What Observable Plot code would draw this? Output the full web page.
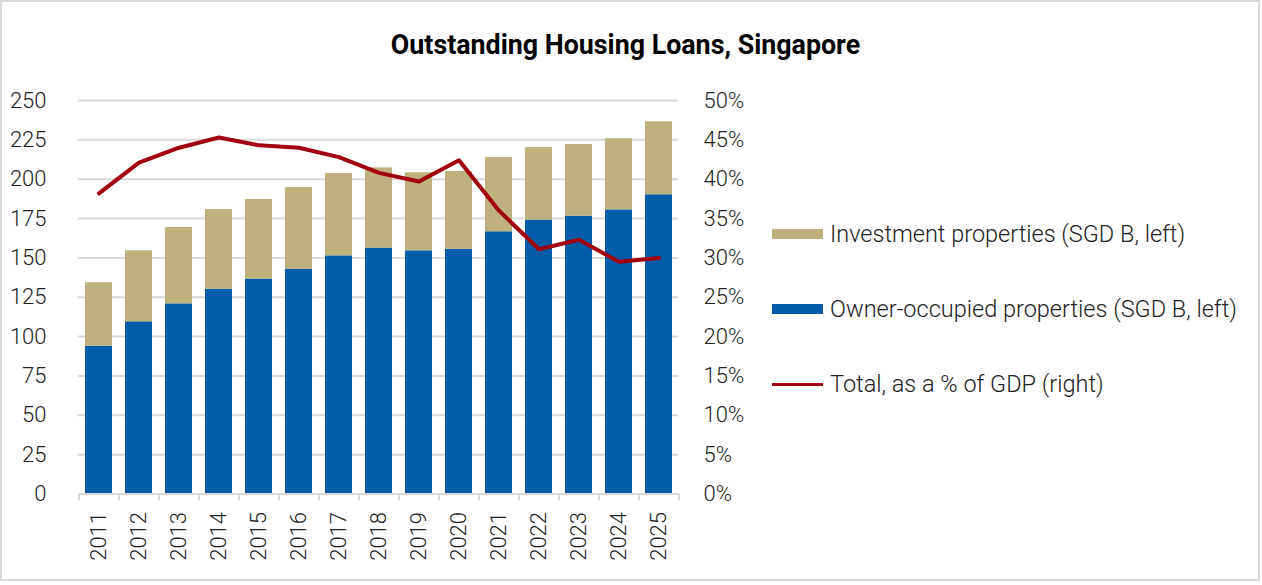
<!DOCTYPE html>
<html>
<head>
<meta charset="utf-8">
<script src="https://cdn.jsdelivr.net/npm/d3@7"></script>
<script src="https://cdn.jsdelivr.net/npm/@observablehq/plot@0.6"></script>
<style>
  html, body { margin: 0; padding: 0; background: #fff; }
  #wrap { position: relative; width: 1262px; height: 585px; font-family: Roboto, "Noto Sans", sans-serif; color: #222; }
  #frame { position: absolute; left: 0; top: 0; width: 1260px; height: 581px; border: 2px solid #d9d9d9; box-sizing: border-box; }
  #title { position: absolute; left: 0; top: 28px; width: 1251px; text-align: center; font-weight: 700; font-size: 26.8px; line-height: 34px; color: #000; }
  #chart { position: absolute; left: 0; top: 80px; }
  #legend { position: absolute; left: 772px; top: 0; font-weight: 300; font-size: 23.5px; color: #222; }
  .row { position: absolute; left: 0; white-space: nowrap; display: flex; align-items: center; height: 30px; }
  .sw { width: 51px; height: 10px; margin-right: 7px; }
  .ln { width: 51px; height: 3px; margin-right: 7px; }
</style>
</head>
<body>
<div id="wrap">
  <div id="frame"></div>
  <div id="title"></div>
  <div id="chart"></div>
  <div id="legend"></div>
</div>
<script>
// Outstanding housing loans by property type (SGD billions) and total as % of GDP
const years = ["2011","2012","2013","2014","2015","2016","2017","2018","2019","2020","2021","2022","2023","2024","2025"];
const ownerOccupied = [93.9, 109.4, 120.8, 130.1, 136.5, 142.8, 151.3, 156.2, 154.5, 155.5, 166.6, 174.0, 176.5, 180.5, 190.1];
const investment = [40.3, 45.1, 48.5, 50.6, 50.6, 51.9, 52.3, 51.0, 49.6, 49.4, 47.2, 46.1, 45.5, 45.2, 46.4];
const pctOfGdp = [38.2, 42.1, 44.0, 45.3, 44.3, 44.0, 42.8, 40.8, 39.7, 42.4, 36.0, 31.1, 32.3, 29.5, 30.0];

const seriesNames = ["Owner-occupied properties (SGD B, left)", "Investment properties (SGD B, left)"];
const lineName = "Total, as a % of GDP (right)";
const leftTicks = [0, 25, 50, 75, 100, 125, 150, 175, 200, 225, 250];
const title = "Outstanding Housing Loans, Singapore";

const colors = { owner: "#005ca6", invest: "#bfb17e", line: "#a3000f", grid: "#d9d9d9", text: "#222" };

// the right axis (0–50%) shares the left axis range (0–250)
const pctToLeft = 250 / 50;

const stacked = [];
years.forEach((y, i) => {
  stacked.push({ year: y, series: seriesNames[0], value: ownerOccupied[i] });
  stacked.push({ year: y, series: seriesNames[1], value: investment[i] });
});
const lineData = years.map((y, i) => ({ year: y, pct: pctOfGdp[i] }));

const width = 760, height = 505;
const marginLeft = 78, marginRight = 82, marginTop = 20, marginBottom = 91.5;
const step = (width - marginLeft - marginRight) / years.length;
const font = "Roboto, sans-serif";

const chart = Plot.plot({
  width, height, marginLeft, marginRight, marginTop, marginBottom,
  style: { fontFamily: font, fontSize: "22px", fontWeight: 300, color: colors.text, background: "transparent" },
  x: { domain: years, paddingInner: 0.33, paddingOuter: 0.165, label: null },
  y: { domain: [0, 250], label: null },
  color: { domain: seriesNames, range: [colors.owner, colors.invest] },
  marks: [
    Plot.gridY(leftTicks, { stroke: colors.grid, strokeOpacity: 1, strokeWidth: 2 }),
    Plot.barY(stacked, { x: "year", y: "value", fill: "series", order: null }),
    Plot.ruleY([0], { stroke: colors.grid, strokeWidth: 2 }),
    // category boundary ticks
    Plot.axisX(years, { tickSize: 7, tickFormat: () => "", dx: -step / 2, stroke: colors.grid, strokeWidth: 2, label: null }),
    Plot.axisX([years[years.length - 1]], { tickSize: 7, tickFormat: () => "", dx: step / 2, stroke: colors.grid, strokeWidth: 2, label: null }),
    Plot.axisX(years, { tickSize: 0, tickPadding: 18, tickRotate: -90, label: null, fill: colors.text }),
    Plot.axisY(leftTicks, { anchor: "left", tickSize: 0, tickPadding: 32, label: null, fill: colors.text }),
    Plot.axisY(leftTicks, { anchor: "right", tickSize: 0, tickPadding: 25, label: null, fill: colors.text,
      tickFormat: d => `${d / pctToLeft}%` }),
    Plot.lineY(lineData, { x: "year", y: d => d.pct * pctToLeft, stroke: colors.line, strokeWidth: 4,
      strokeLinecap: "round", strokeLinejoin: "round" })
  ]
});
document.getElementById("chart").appendChild(chart);
document.getElementById("title").textContent = title;

// legend to the right of the chart
const legendRows = [
  { label: seriesNames[1], color: colors.invest, kind: "sw", y: 234 },
  { label: seriesNames[0], color: colors.owner, kind: "sw", y: 309 },
  { label: lineName, color: colors.line, kind: "ln", y: 384 }
];
const legend = document.getElementById("legend");
legendRows.forEach(r => {
  const row = document.createElement("div");
  row.className = "row";
  row.style.top = (r.y - 15) + "px";
  const sw = document.createElement("div");
  sw.className = r.kind;
  sw.style.background = r.color;
  const t = document.createElement("span");
  t.textContent = r.label;
  row.appendChild(sw);
  row.appendChild(t);
  legend.appendChild(row);
});
</script>
</body>
</html>
